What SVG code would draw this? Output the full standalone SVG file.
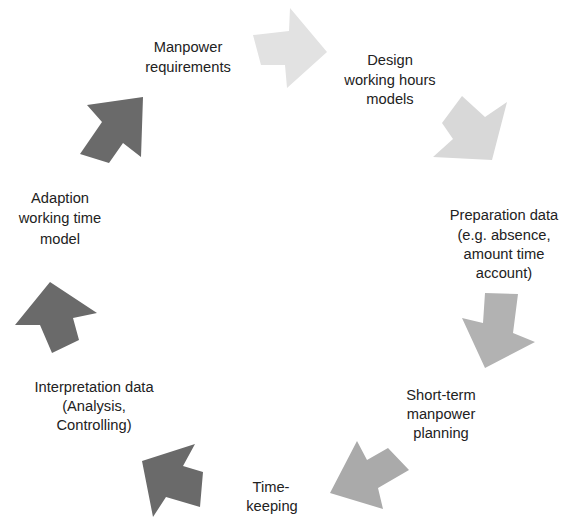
<svg xmlns="http://www.w3.org/2000/svg" width="563" height="518" viewBox="0 0 563 518">
  <style>
    .lbl { font-family: "Liberation Sans", Arial, sans-serif; font-size: 14.7px; fill: #222222; text-anchor: middle; }
    .light { fill: #e2e2e2; }
    .light2 { fill: #d8d8d8; }
    .mid { fill: #b2b2b2; }
    .mid2 { fill: #aaaaaa; }
    .dark { fill: #6a6a6a; }
  </style>
  <rect width="563" height="518" fill="#ffffff"/>

  <!-- cycle arrows between the stages -->
  <g id="connectors">
    <polygon class="light" points="253,35 289,31 290,8 327,52 287,88 285,65 261,65"/>
    <polygon class="light2" points="462,96 485,117 507,102 492,160 433,157 453,139 442,123"/>
    <polygon class="mid" points="485,293 518,294 513,333 535,342 485,368 462,318 483,323"/>
    <polygon class="mid2" points="357,441 367,460 388,448 409,470 378,488 383,509 330,493"/>
    <polygon class="dark" points="142,461 195,444 183,466 203,472 200,507 166,497 153,517"/>
    <polygon class="dark" points="50,282 97,313 73,318 79,340 52,353 40,325 15,325"/>
    <polygon class="dark" points="87,105 143,97 141,157 123,143 109,163 80,154 102,122"/>
  </g>

  <g id="manpower-requirements">
    <text class="lbl" x="188" y="52">Manpower</text>
    <text class="lbl" x="188" y="72">requirements</text>
  </g>
  <g id="design-models">
    <text class="lbl" x="390" y="65">Design</text>
    <text class="lbl" x="390" y="85">working hours</text>
    <text class="lbl" x="390" y="104">models</text>
  </g>
  <g id="preparation-data">
    <text class="lbl" x="504" y="220">Preparation data</text>
    <text class="lbl" x="504" y="240">(e.g. absence,</text>
    <text class="lbl" x="504" y="259">amount time</text>
    <text class="lbl" x="504" y="278">account)</text>
  </g>
  <g id="short-term-planning">
    <text class="lbl" x="441" y="400">Short-term</text>
    <text class="lbl" x="441" y="419">manpower</text>
    <text class="lbl" x="441" y="438">planning</text>
  </g>
  <g id="time-keeping">
    <text class="lbl" x="271" y="492">Time-</text>
    <text class="lbl" x="272" y="511">keeping</text>
  </g>
  <g id="interpretation-data">
    <text class="lbl" x="94" y="392">Interpretation data</text>
    <text class="lbl" x="94" y="411">(Analysis,</text>
    <text class="lbl" x="94" y="430">Controlling)</text>
  </g>
  <g id="adaption-model">
    <text class="lbl" x="60" y="203">Adaption</text>
    <text class="lbl" x="60" y="223">working time</text>
    <text class="lbl" x="60" y="244">model</text>
  </g>
</svg>
